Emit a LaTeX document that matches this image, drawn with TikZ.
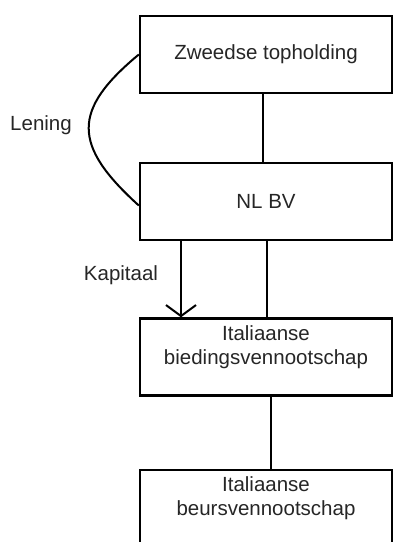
\documentclass[tikz,border=0pt]{standalone}
\usepackage{fontspec}
\setmainfont{Liberation Sans}
\usetikzlibrary{arrows.meta}
\tikzset{
  box/.style={draw, line width=2.4pt, minimum width=252pt, minimum height=77pt, inner sep=0pt},
  txt/.style={align=center, text=black!85, font=\fontsize{20.5}{24}\selectfont},
  link/.style={line width=2pt}
}
\begin{document}
\begin{tikzpicture}[x=1pt, y=-1pt]
      \useasboundingbox (0,0) rectangle (393,542);

      \node (b1) [box, txt, at={(266,54.5)}] {Zweedse topholding};
      \node (b2) [box, txt, at={(266,201.5)}] {NL BV};
      \node (b3) [box, at={(266,357)},
        label={[txt, anchor=north, yshift=-8pt, inner sep=0pt]north:Italiaanse\\biedingsvennootschap}] {};
      \node (b4) [box, minimum height=90pt, at={(266,515)},
        label={[txt, anchor=north, yshift=-8pt, inner sep=0pt]north:Italiaanse\\beursvennootschap}] {};

      \draw[link] ([xshift=-3pt]b1.south) -- ([xshift=-3pt]b2.north);
      \draw[link] ([xshift=1pt]b2.south) -- ([xshift=1pt]b3.north);
      \draw[link, -{Straight Barb[length=11pt, width=30pt]}] ([xshift=-85pt]b2.south) -- ([xshift=-85pt]b3.north);
      \draw[link] ([xshift=5pt]b3.south) -- ([xshift=5pt]b4.north);
      \draw[link] (b1.west) .. controls (72,110) and (72,145) .. ([yshift=-4pt]b2.west);

      \node (lening) [txt, at={(41,125)}] {Lening};
      \node (kapitaal) [txt, at={(121,275)}] {Kapitaal};
    \end{tikzpicture}
\end{document}
